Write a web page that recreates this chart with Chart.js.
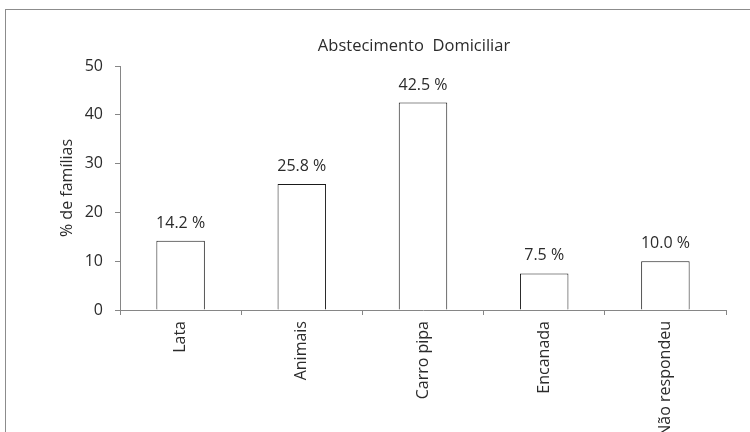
<!DOCTYPE html>
<html>
<head>
<meta charset="utf-8">
<script src="https://cdn.jsdelivr.net/npm/chart.js@4/dist/chart.umd.min.js"></script>
<style>
  html, body { margin: 0; padding: 0; background: #fff; overflow: hidden; }
  #wrap { width: 750px; height: 432px; overflow: hidden; }
</style>
</head>
<body>
<div id="wrap"><canvas id="aguaChart" width="750" height="470"></canvas></div>
<script>
const categorias = ['Lata', 'Animais', 'Carro pipa', 'Encanada', 'Não respondeu']
const familias = [14.2, 25.8, 42.5, 7.5, 10.0]
const yTicks = [0, 10, 20, 30, 40, 50]

const fonte = "'Open Sans', 'Noto Sans', sans-serif"
const corTexto = '#2b2b2b'
const corEixo = '#868686'

// moldura do grafico (continua fora da area visivel)
const moldura = {
    id: 'moldura',
    beforeDraw(chart) {
        const ctx = chart.ctx
        ctx.save()
        ctx.strokeStyle = '#8c8c8c'
        ctx.lineWidth = 1
        ctx.strokeRect(5.5, 9.5, 1000, 1000)
        ctx.restore()
    }
}

// titulo centrado na moldura inteira
const titulo = {
    id: 'titulo',
    afterDraw(chart) {
        const ctx = chart.ctx
        ctx.save()
        ctx.font = '16.5px ' + fonte
        ctx.fillStyle = corTexto
        ctx.textAlign = 'center'
        ctx.textBaseline = 'middle'
        ctx.fillText('Abstecimento  Domiciliar', 414, 46)
        ctx.restore()
    }
}

// rotulos de valor acima das barras
const rotulos = {
    id: 'rotulos',
    afterDatasetsDraw(chart) {
        const ctx = chart.ctx
        const meta = chart.getDatasetMeta(0)
        ctx.save()
        ctx.font = '16px ' + fonte
        ctx.fillStyle = corTexto
        ctx.textAlign = 'center'
        ctx.textBaseline = 'alphabetic'
        meta.data.forEach((bar, i) => {
            ctx.fillText(familias[i].toFixed(1) + ' %', bar.x, bar.y - 13)
        })
        ctx.restore()
    }
}

const ctx = document.getElementById('aguaChart').getContext('2d')
const aguaChart = new Chart(ctx, {
    type: 'bar',
    data: {
        labels: categorias,
        datasets: [{
            label: '% de famílias',
            data: familias,
            backgroundColor: '#ffffff',
            borderColor: '#1a1a1a',
            borderWidth: 1,
            barPercentage: 0.4,
            categoryPercentage: 1
        }]
    },
    options: {
        responsive: false,
        animation: false,
        layout: {
            padding: { left: 50, right: 24, top: 66, bottom: 0 }
        },
        plugins: {
            legend: { display: false },
            tooltip: { enabled: false }
        },
        scales: {
            x: {
                grid: {
                    offset: true,
                    drawOnChartArea: false,
                    drawTicks: true,
                    tickLength: 5,
                    color: corEixo
                },
                border: { color: corEixo },
                ticks: {
                    color: corTexto,
                    font: { family: fonte, size: 16 },
                    minRotation: 90,
                    maxRotation: 90,
                    padding: 6
                },
                afterFit: (axis) => { axis.height = 160 }
            },
            y: {
                min: 0,
                max: 50,
                afterBuildTicks: (axis) => { axis.ticks = yTicks.map(v => ({ value: v })) },
                grid: {
                    drawOnChartArea: false,
                    drawTicks: true,
                    tickLength: 5,
                    color: corEixo
                },
                border: { color: corEixo },
                ticks: {
                    color: corTexto,
                    font: { family: fonte, size: 16 },
                    padding: 12
                },
                title: {
                    display: true,
                    text: '% de famílias',
                    color: corTexto,
                    font: { family: fonte, size: 16 },
                    padding: { top: 8, bottom: 0 }
                },
                afterFit: (axis) => { axis.width = 70 }
            }
        }
    },
    plugins: [moldura, titulo, rotulos]
})
</script>
</body>
</html>
